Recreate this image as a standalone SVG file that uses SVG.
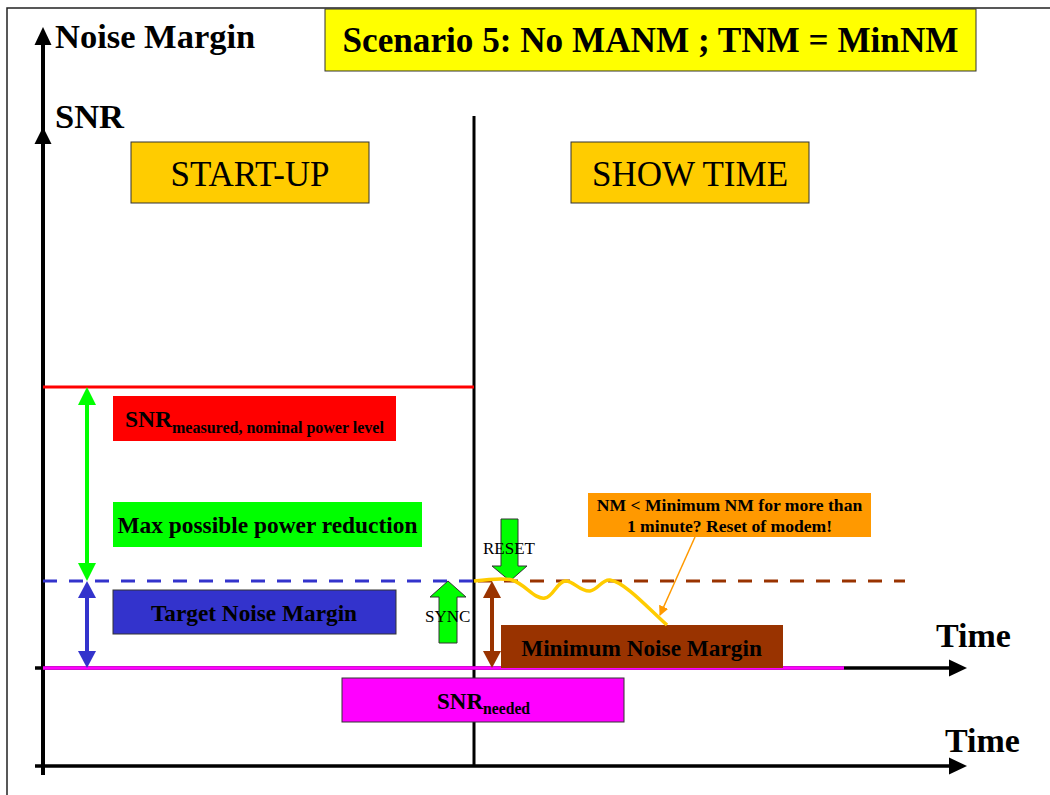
<svg xmlns="http://www.w3.org/2000/svg" width="1050" height="795" viewBox="0 0 1050 795">
<style>
.b{font-family:"Liberation Serif","Times New Roman",serif;font-weight:bold;fill:#000}
.n{font-family:"Liberation Serif","Times New Roman",serif;font-weight:normal;fill:#000}
.box{stroke:#333;stroke-width:1}
.ax{stroke:#000;stroke-width:4;fill:none}
.blk{fill:#00FF00;stroke:#333;stroke-width:1}
</style>
<defs>
<marker id="oh" markerWidth="10" markerHeight="10" refX="9" refY="5" orient="auto" markerUnits="userSpaceOnUse">
<path d="M0,0 L10,5 L0,10 z" fill="#FF9900"/>
</marker>
</defs>
<rect width="1050" height="795" fill="#fff"/>
<!-- frame -->
<path d="M7,795 V8 H1050" fill="none" stroke="#222" stroke-width="1.5"/>

<g id="axes">
<line class="ax" x1="43" y1="775" x2="43" y2="42"/>
<polygon points="43,27 34.5,45 51.5,45" fill="#000"/>
<polygon points="43,127 34.5,144 51.5,144" fill="#000"/>
<line x1="35" y1="668" x2="950" y2="668" stroke="#000" stroke-width="3.5"/>
<polygon points="967,668 949,659.5 949,676.5" fill="#000"/>
<line x1="35" y1="766" x2="950" y2="766" stroke="#000" stroke-width="3.5"/>
<polygon points="967,766 949,757.5 949,774.5" fill="#000"/>
<line x1="474" y1="116" x2="474" y2="766" stroke="#000" stroke-width="3"/>
<text class="b" x="55" y="48" font-size="34.5">Noise Margin</text>
<text class="b" x="55" y="128" font-size="34.5">SNR</text>
<text class="b" x="936" y="647" font-size="34">Time</text>
<text class="b" x="945" y="752" font-size="34">Time</text>
</g>

<g id="title">
<rect class="box" x="325" y="9" width="651" height="62" fill="#FFFF00"/>
<text class="b" x="650.5" y="52" font-size="35" text-anchor="middle" textLength="616" lengthAdjust="spacingAndGlyphs">Scenario 5: No MANM ; TNM = MinNM</text>
</g>

<g id="startup">
<rect class="box" x="131" y="142" width="238" height="61" fill="#FFCC00"/>
<text class="n" x="250" y="186" font-size="35" text-anchor="middle">START-UP</text>
</g>

<g id="showtime">
<rect class="box" x="571" y="142" width="238" height="61" fill="#FFCC00"/>
<text class="n" x="690" y="186" font-size="35" text-anchor="middle">SHOW TIME</text>
</g>

<g id="levels">
<line x1="43" y1="387" x2="474" y2="387" stroke="#FF0000" stroke-width="3"/>
<line x1="43" y1="581" x2="474" y2="581" stroke="#3333CC" stroke-width="3" stroke-dasharray="14 12"/>
<line x1="478" y1="581" x2="905" y2="581" stroke="#993300" stroke-width="3" stroke-dasharray="14 12"/>
<line x1="43" y1="668" x2="844" y2="668" stroke="#FF00FF" stroke-width="3.5"/>
</g>

<g id="snr-measured">
<rect x="113" y="396" width="283" height="45" fill="#FF0000"/>
<text class="b" x="125" y="427" font-size="23.5">SNR<tspan font-size="16" dy="6">measured, nominal power level</tspan></text>
</g>

<g id="max-reduction">
<rect x="113" y="502" width="309" height="45" fill="#00FF00"/>
<text class="b" x="267.5" y="533" font-size="23.4" text-anchor="middle">Max possible power reduction</text>
</g>

<g id="target-nm">
<rect class="box" x="113" y="590" width="283" height="44" fill="#3333CC"/>
<text class="b" x="254" y="621" font-size="23.3" text-anchor="middle">Target Noise Margin</text>
</g>

<g id="min-nm">
<rect x="501" y="625" width="282" height="43" fill="#993300"/>
<text class="b" x="641.5" y="656" font-size="23.3" text-anchor="middle">Minimum Noise Margin</text>
</g>

<g id="snr-needed">
<rect class="box" x="342" y="678" width="282" height="44" fill="#FF00FF"/>
<text class="b" x="437" y="709" font-size="23">SNR<tspan font-size="15.7" dy="5">needed</tspan></text>
</g>

<g id="callout">
<rect x="588" y="493" width="283" height="44" fill="#FF9900"/>
<text class="b" x="729.5" y="511" font-size="17.6" text-anchor="middle">NM &lt; Minimum NM for more than</text>
<text class="b" x="729.5" y="532" font-size="17.6" text-anchor="middle">1 minute? Reset of modem!</text>
</g>

<g id="sync">
<polygon class="blk" points="448,581 466,597 457,597 457,643 439,643 439,597 430,597"/>
<text class="n" x="425" y="622" font-size="17">SYNC</text>
</g>

<g id="reset">
<polygon class="blk" points="510,581 527,566 518,566 518,519 501,519 501,566 492,566"/>
<text class="n" x="483" y="554" font-size="17">RESET</text>
</g>

<g id="connectors">
<line x1="87" y1="403" x2="87" y2="565" stroke="#00FF00" stroke-width="4"/>
<polygon points="87,387 78,405 96,405" fill="#00FF00"/>
<polygon points="87,581 78,563 96,563" fill="#00FF00"/>
<line x1="87" y1="596" x2="87" y2="653" stroke="#3333CC" stroke-width="4"/>
<polygon points="87,581 78,598 96,598" fill="#3333CC"/>
<polygon points="87,668 78,651 96,651" fill="#3333CC"/>
<line x1="492" y1="596" x2="492" y2="653" stroke="#993300" stroke-width="4"/>
<polygon points="492,581 483,598 501,598" fill="#993300"/>
<polygon points="492,668 483,651 501,651" fill="#993300"/>
<path d="M474,581 C490,579 505,578 512,580 C525,584 535,600 545,598 C553,597 557,582 565,581 C573,580 580,592 590,591 C598,590 602,579 610,580 C625,582 650,610 667,625" fill="none" stroke="#FFCC00" stroke-width="3.5"/>
<line x1="695" y1="537" x2="660" y2="615" stroke="#FF9900" stroke-width="1.5" marker-end="url(#oh)"/>
</g>
</svg>
